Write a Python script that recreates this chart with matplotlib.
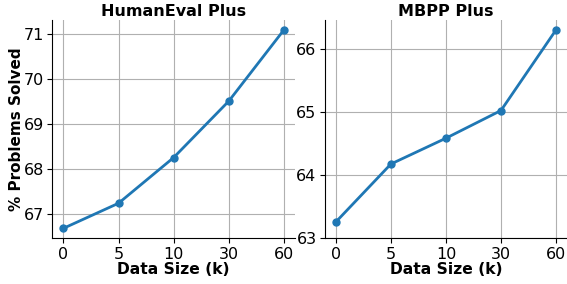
import numpy as np
import matplotlib.pyplot as plt

data_sizes = ['0', '5', '10', '30', '60']
humaneval_plus = [66.67, 67.23, 68.25, 69.51, 71.10]
mbpp_plus = [63.26, 64.18, 64.59, 65.03, 66.31]

fig = plt.figure(figsize=(5.67, 2.84), dpi=100)
ax1 = fig.add_axes([0.0923, 0.161, 0.428, 0.769])
ax2 = fig.add_axes([0.573, 0.161, 0.427, 0.769])

x = np.arange(len(data_sizes))
for ax, vals, title in [(ax1, humaneval_plus, 'HumanEval Plus'),
                        (ax2, mbpp_plus, 'MBPP Plus')]:
    ax.plot(x, vals, marker='o', color='#1f77b4', linewidth=2, markersize=5)
    ax.set_xticks(x)
    ax.set_xticklabels(data_sizes)
    ax.set_title(title, fontsize=11.5, fontweight='bold', pad=3)
    ax.set_xlabel('Data Size (k)', fontsize=11.2, fontweight='bold', labelpad=0)
    ax.tick_params(labelsize=11.5, pad=2.5)
    ax.grid(True, color='#b0b0b0', linewidth=0.8)
    ax.spines['top'].set_visible(False)
    ax.spines['right'].set_visible(False)

ax1.set_ylabel('% Problems Solved', fontsize=11, fontweight='bold', labelpad=0)
ax1.set_yticks([67, 68, 69, 70, 71])
ax2.set_yticks([63, 64, 65, 66])
ax2.set_ylim(63, 66.47)

fig.savefig('out.png', dpi=100)
